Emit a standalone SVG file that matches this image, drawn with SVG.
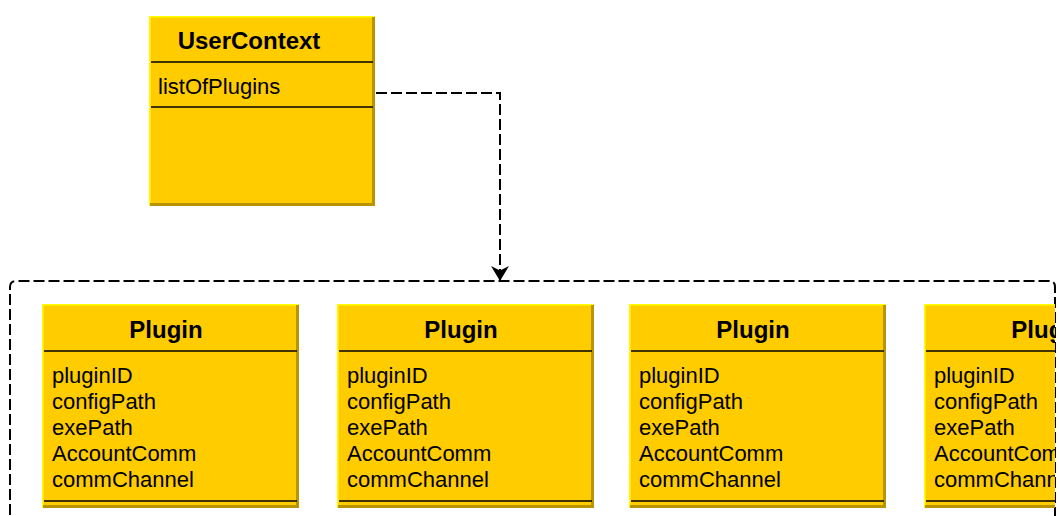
<svg xmlns="http://www.w3.org/2000/svg" width="1060" height="516" viewBox="0 0 1060 516">
  <style>
    .body { fill: #ffcc00; }
    .lit { fill: none; stroke: #ffff00; stroke-width: 1.5; }
    .shade { fill: none; stroke: #b89400; stroke-width: 3; }
    .rule { stroke: #000; stroke-width: 1.5; }
    .title { font-family: "Liberation Sans", Arial, sans-serif; font-size: 24px; font-weight: bold; fill: #000; text-anchor: middle; }
    .attr { font-family: "Liberation Sans", Arial, sans-serif; font-size: 22px; fill: #000; }
    .link { fill: none; stroke: #000; stroke-width: 2; stroke-dasharray: 11 4; }
  </style>
  <defs>
    <marker id="arrow" viewBox="0 0 15 18" refX="15" refY="9" markerWidth="15" markerHeight="18" markerUnits="userSpaceOnUse" orient="auto">
      <path d="M0,0 L15,9 L0,18 L4.5,9 Z" fill="#000"/>
    </marker>
    <clipPath id="frameClip">
      <rect x="10" y="281" width="1045" height="240"/>
    </clipPath>
    <!-- class box: 257 x 204, raised bevel edge -->
    <g id="pluginBox">
      <rect class="body" x="0" y="0" width="257" height="204"/>
      <path class="lit" d="M0.75,204 V0.75 H257"/>
      <path class="shade" d="M1,202.5 H255.5 V1"/>
      <line class="rule" x1="2" y1="47" x2="255" y2="47"/>
      <line class="rule" x1="2" y1="197" x2="255" y2="197"/>
      <text class="title" x="124" y="34">Plugin</text>
      <text class="attr" x="10" y="79">pluginID</text>
      <text class="attr" x="10" y="105">configPath</text>
      <text class="attr" x="10" y="131">exePath</text>
      <text class="attr" x="10" y="157">AccountComm</text>
      <text class="attr" x="10" y="183">commChannel</text>
    </g>
  </defs>

  <!-- UserContext class -->
  <g id="userContext">
    <rect class="body" x="149" y="16" width="226" height="190"/>
    <path class="lit" d="M149.75,206 V16.75 H375"/>
    <path class="shade" d="M150,204.5 H373.5 V17"/>
    <line class="rule" x1="151" y1="62" x2="373" y2="62"/>
    <line class="rule" x1="151" y1="107" x2="373" y2="107"/>
    <text class="title" x="249" y="49">UserContext</text>
    <text class="attr" x="158" y="94">listOfPlugins</text>
  </g>

  <!-- connectors -->
  <g id="connectors">
    <path class="link" d="M376,93 H500 V281" marker-end="url(#arrow)"/>
  </g>

  <!-- plugin list container -->
  <g id="pluginList">
    <path class="link" d="M10,530 V287 Q10,281 16,281 H1049 Q1055,281 1055,287 V530"/>
    <g clip-path="url(#frameClip)">
      <use id="plugin1" href="#pluginBox" x="42" y="304"/>
      <use id="plugin2" href="#pluginBox" x="337" y="304"/>
      <use id="plugin3" href="#pluginBox" x="629" y="304"/>
      <use id="plugin4" href="#pluginBox" x="924" y="304"/>
    </g>
  </g>
</svg>
